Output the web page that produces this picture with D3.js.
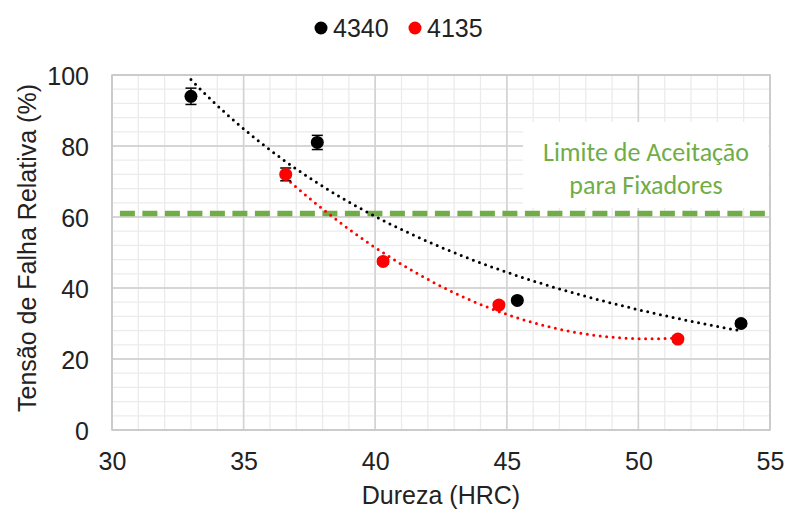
<!DOCTYPE html>
<html><head><meta charset="utf-8">
<script src="https://cdn.jsdelivr.net/npm/d3@7"></script>
<style>
html,body{margin:0;padding:0;background:#fff;}
svg{display:block;}
</style></head>
<body>
<svg id="chart" width="787" height="515"></svg>
<script>
// ---- data ----
const seriesNames = ["4340", "4135"];
const hardness4340 = [33.0, 37.8, 45.4, 53.9];
const stress4340   = [94.0, 81.0, 36.5, 30.0];
const err4340      = [2.3, 2.0, 0.8, 0.8];
const hardness4135 = [36.6, 40.3, 44.7, 51.5];
const stress4135   = [72.0, 47.5, 35.2, 25.6];
const err4135      = [1.8, 0.8, 0.8, 0.8];
const acceptanceLimit = 61;
const xTicks = [30, 35, 40, 45, 50, 55];
const yTicks = [0, 20, 40, 60, 80, 100];
const annotationLines = ["Limite de Aceitação", "para Fixadores"];
const xTitle = "Dureza (HRC)";
const yTitle = "Tensão de Falha Relativa (%)";

const svg = d3.select("#chart");
const L = 112, R = 770, T = 75, B = 430;
const x = d3.scaleLinear().domain([30, 55]).range([L, R]);
const y = d3.scaleLinear().domain([0, 100]).range([B, T]);
const font = "'Liberation Sans', Arial, sans-serif";

// minor grid
const g = svg.append("g");
g.selectAll(".vx").data(d3.range(30, 55.01, 1)).join("line")
  .attr("x1", d => x(d)).attr("x2", d => x(d)).attr("y1", T).attr("y2", B)
  .attr("stroke", d => d % 5 === 0 ? "#d3d3d3" : "#ebebeb").attr("stroke-width", 1.3);
g.selectAll(".hy").data(d3.range(0, 100.01, 4)).join("line")
  .attr("y1", d => y(d)).attr("y2", d => y(d)).attr("x1", L).attr("x2", R)
  .attr("stroke", d => d % 20 === 0 ? "#d3d3d3" : "#ebebeb").attr("stroke-width", 1.3);
// redraw majors on top
g.selectAll(".mx").data(xTicks).join("line")
  .attr("x1", d => x(d)).attr("x2", d => x(d)).attr("y1", T).attr("y2", B)
  .attr("stroke", "#d3d3d3").attr("stroke-width", 1.5);
g.selectAll(".my").data(yTicks).join("line")
  .attr("y1", d => y(d)).attr("y2", d => y(d)).attr("x1", L).attr("x2", R)
  .attr("stroke", "#d3d3d3").attr("stroke-width", 1.5);
svg.append("rect").attr("x", L).attr("y", T).attr("width", R - L).attr("height", B - T)
  .attr("fill", "none").attr("stroke", "#c8c8c8").attr("stroke-width", 1.5);

// axes (labels only)
const xAxis = svg.append("g").attr("transform", `translate(0,${B})`)
  .call(d3.axisBottom(x).tickValues(xTicks).tickSize(0).tickPadding(22));
const yAxis = svg.append("g").attr("transform", `translate(${L},0)`)
  .call(d3.axisLeft(y).tickValues(yTicks).tickSize(0).tickPadding(23));
[xAxis, yAxis].forEach(a => {
  a.select(".domain").remove();
  a.selectAll("text").attr("font-family", font).attr("font-size", 25).attr("fill", "#222");
});
yAxis.selectAll("text").attr("dy", "0.36em");
xAxis.selectAll("text").attr("dy", "0.71em");

// annotation box
svg.append("rect").attr("x", 523).attr("y", 122).attr("width", R - 523 - 1.5).attr("height", 86).attr("fill", "#fff");
svg.append("text").attr("x", 646).attr("font-family", "Carlito, Lato, 'Open Sans', sans-serif")
  .attr("font-size", 26).attr("fill", "#70ad47").attr("text-anchor", "middle")
  .selectAll("tspan").data(annotationLines).join("tspan")
  .attr("x", 646).attr("y", (d, i) => 161 + i * 33).text(d => d);

// acceptance limit line
svg.append("line").attr("x1", x(30.3)).attr("x2", R).attr("y1", y(acceptanceLimit)).attr("y2", y(acceptanceLimit))
  .attr("stroke", "#70ad47").attr("stroke-width", 5.5).attr("stroke-dasharray", "15 7.5");

// trendlines
function powerFit(xs, ys) {
  const lx = xs.map(Math.log), ly = ys.map(Math.log);
  const mx = d3.mean(lx), my = d3.mean(ly);
  const b = d3.sum(lx, (v, i) => (v - mx) * (ly[i] - my)) / d3.sum(lx, v => (v - mx) ** 2);
  const a = Math.exp(my - b * mx);
  return v => a * Math.pow(v, b);
}
function polyFit2(xs, ys) {
  const n = xs.length;
  const s = k => d3.sum(xs, v => v ** k);
  const sy = k => d3.sum(xs, (v, i) => v ** k * ys[i]);
  const A = [[n, s(1), s(2)], [s(1), s(2), s(3)], [s(2), s(3), s(4)]];
  const bb = [sy(0), sy(1), sy(2)];
  for (let i = 0; i < 3; i++) {
    for (let j = i + 1; j < 3; j++) {
      const f = A[j][i] / A[i][i];
      for (let k = i; k < 3; k++) A[j][k] -= f * A[i][k];
      bb[j] -= f * bb[i];
    }
  }
  const c = [0, 0, 0];
  for (let i = 2; i >= 0; i--) {
    let sum = bb[i];
    for (let k = i + 1; k < 3; k++) sum -= A[i][k] * c[k];
    c[i] = sum / A[i][i];
  }
  return v => c[0] + c[1] * v + c[2] * v * v;
}
const trends = [
  {f: powerFit(hardness4340, stress4340), xs: hardness4340, color: "#000"},
  {f: polyFit2(hardness4135, stress4135), xs: hardness4135, color: "#ff0000"}
];
const line = d3.line().x(d => x(d[0])).y(d => y(d[1]));
trends.forEach(t => {
  const [a, b] = d3.extent(t.xs);
  const pts = d3.range(0, 101).map(i => { const v = a + (b - a) * i / 100; return [v, t.f(v)]; });
  svg.append("path").attr("d", line(pts)).attr("fill", "none").attr("stroke", t.color)
    .attr("stroke-width", 3).attr("stroke-linecap", "round").attr("stroke-dasharray", "0 6.5");
});

// points with error bars
const series = [
  {xs: hardness4340, ys: stress4340, es: err4340, color: "#000"},
  {xs: hardness4135, ys: stress4135, es: err4135, color: "#ff0000"}
];
series.forEach(s => {
  const data = s.xs.map((v, i) => ({x: v, y: s.ys[i], e: s.es[i]}));
  const eg = svg.append("g").attr("stroke", "#000").attr("stroke-width", 1.5);
  data.forEach(d => {
    eg.append("line").attr("x1", x(d.x)).attr("x2", x(d.x)).attr("y1", y(d.y - d.e)).attr("y2", y(d.y + d.e));
    [d.y - d.e, d.y + d.e].forEach(v => eg.append("line").attr("x1", x(d.x) - 5.5).attr("x2", x(d.x) + 5.5)
      .attr("y1", y(v)).attr("y2", y(v)));
  });
  svg.append("g").selectAll("circle").data(data).join("circle")
    .attr("cx", d => x(d.x)).attr("cy", d => y(d.y)).attr("r", 6.5).attr("fill", s.color);
});

// legend
const leg = svg.append("g");
const legX = [321, 415];
seriesNames.forEach((n, i) => {
  leg.append("circle").attr("cx", legX[i]).attr("cy", 28).attr("r", 6.5).attr("fill", i === 0 ? "#000" : "#ff0000");
  leg.append("text").attr("x", legX[i] + 12).attr("y", 37).attr("font-family", font).attr("font-size", 25)
    .attr("fill", "#222").text(n);
});

// axis titles
svg.append("text").attr("x", 441).attr("y", 504).attr("text-anchor", "middle")
  .attr("font-family", font).attr("font-size", 25).attr("fill", "#222").text(xTitle);
svg.append("text").attr("transform", "translate(36,248) rotate(-90)").attr("text-anchor", "middle")
  .attr("font-family", font).attr("font-size", 25).attr("fill", "#222").text(yTitle);
</script>
</body></html>
